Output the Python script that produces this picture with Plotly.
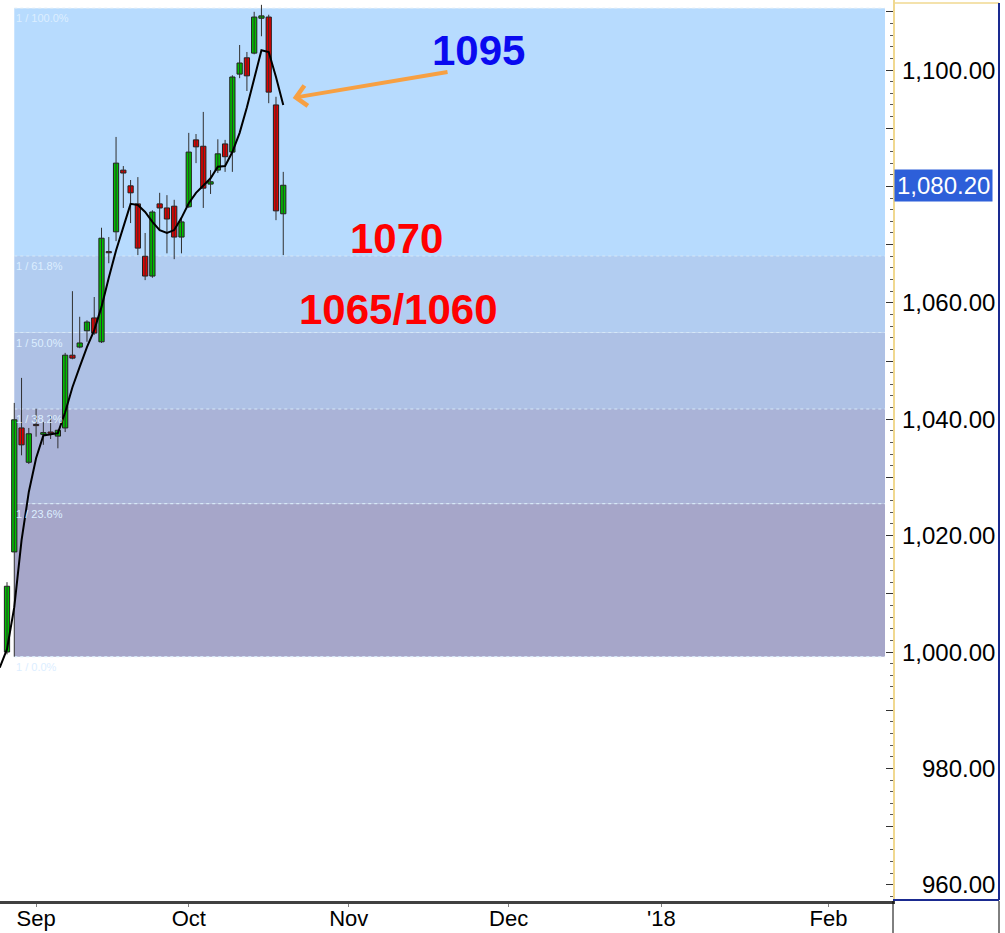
import pandas as pd
import plotly.graph_objects as go

# ---------------- data ----------------
START_DATE = "2017-08-28"
OPEN = [1000.0, 1017.2, 1038.5, 1032.6, 1039.1, 1037.4, 1037.8, 1037.1, 1038.5, 1051.0,
        1052.4, 1055.2, 1057.4, 1053.3, 1068.8, 1072.2, 1082.8, 1080.1, 1077.0, 1068.0,
        1064.6, 1077.0, 1076.3, 1076.6, 1071.3, 1076.5, 1088.0, 1086.9, 1080.4, 1082.8,
        1087.3, 1085.9, 1099.3, 1102.1, 1102.9, 1108.9, 1109.1, 1094.0, 1075.3]
HIGH = [1012.0, 1042.8, 1047.1, 1038.5, 1041.8, 1039.5, 1040.7, 1038.2, 1051.4, 1062.0,
        1057.6, 1057.0, 1061.0, 1072.9, 1071.3, 1088.5, 1083.5, 1081.1, 1081.6, 1072.0,
        1075.9, 1078.9, 1078.5, 1077.7, 1074.5, 1089.2, 1089.0, 1092.8, 1082.8, 1088.1,
        1088.0, 1099.1, 1104.3, 1103.1, 1110.0, 1111.2, 1109.5, 1095.4, 1082.5]
LOW = [999.6, 999.2, 1033.8, 1032.3, 1037.0, 1035.6, 1036.6, 1035.0, 1037.8, 1050.3,
       1052.2, 1053.3, 1054.5, 1053.1, 1066.8, 1070.6, 1076.3, 1073.7, 1068.2, 1063.9,
       1064.3, 1072.5, 1068.5, 1067.5, 1068.5, 1076.3, 1084.0, 1076.3, 1078.7, 1082.3,
       1082.5, 1082.5, 1098.6, 1096.4, 1102.7, 1105.8, 1094.3, 1074.2, 1068.2]
CLOSE = [1011.3, 1039.9, 1035.6, 1037.5, 1038.9, 1037.7, 1037.6, 1038.1, 1051.0, 1050.5,
         1053.1, 1056.7, 1054.8, 1071.1, 1068.6, 1084.0, 1082.3, 1078.9, 1069.4, 1064.6,
         1075.6, 1076.3, 1074.4, 1071.3, 1073.9, 1085.9, 1086.8, 1079.7, 1080.8, 1085.6,
         1085.1, 1098.8, 1101.2, 1099.0, 1109.1, 1109.3, 1096.2, 1075.8, 1080.2]
# moving-average line, one value per session starting one session before START_DATE
MA_START_DATE = "2017-08-25"
MA = [997.3, 1000.5, 1007.7, 1019.2, 1027.5, 1033.3, 1037.2, 1037.4, 1037.6, 1041.2,
      1045.5, 1049.0, 1052.4, 1055.3, 1059.3, 1064.3, 1069.0, 1073.0, 1077.0, 1076.8,
      1075.6, 1073.9, 1072.5, 1072.0, 1072.5, 1074.6, 1077.1, 1078.9, 1080.2, 1081.4,
      1083.4, 1083.5, 1085.9, 1089.2, 1093.6, 1098.6, 1103.4, 1103.1, 1098.8, 1094.0]

FIB_LOW = 999.2
FIB_HIGH = 1110.6
FIB_ANCHOR_DATE = "2017-08-29"
FIB_RATIOS = [0.0, 0.236, 0.382, 0.5, 0.618, 1.0]
FIB_LABELS = ["1 / 0.0%", "1 / 23.6%", "1 / 38.2%", "1 / 50.0%", "1 / 61.8%", "1 / 100.0%"]
FIB_ZONE_COLORS = ["#A6A6C9", "#AAB3D7", "#AEC1E5", "#B2CDF1", "#B7DBFE"]

MONTH_TICK_DATES = ["2017-09-01", "2017-10-02", "2017-11-01", "2017-12-01", "2018-01-01", "2018-02-01"]
MONTH_TICK_LABELS = ["Sep", "Oct", "Nov", "Dec", "'18", "Feb"]
PRICE_TICKS = [960, 970, 980, 990, 1000, 1010, 1020, 1030, 1040, 1050, 1060, 1070, 1080, 1090, 1100, 1110]
PRICE_LABELS = [960, 980, 1000, 1020, 1040, 1060, 1100]   # 1,080.00 sits under the last-price box
LAST_PRICE = 1080.20

# text notes: (text, session position, price, colour)
NOTES = [("1095", 64.8, 1103.3, "#0A0AF0"),
         ("1070", 53.6, 1071.1, "#FF0000"),
         ("1065/1060", 53.8, 1058.8, "#FF0000")]
ARROW_HEAD = (39.3, 1095.2)
ARROW_TAIL = (60.8, 1099.7)

# ---------------- session axis (weekdays) ----------------
days = pd.bdate_range("2017-08-25", "2018-03-30")
pos = {d.strftime("%Y-%m-%d"): i - 1 for i, d in enumerate(days)}   # 2017-08-28 -> 0


def px(date):
    return pos[date]


n = len(OPEN)
xs = list(range(px(START_DATE), px(START_DATE) + n))
ma_x = list(range(px(MA_START_DATE), px(MA_START_DATE) + len(MA)))
XRANGE = [-0.963, 121.87]
fib_x0 = px(FIB_ANCHOR_DATE)
fib_x1 = XRANGE[1] - 1.1

W, H = 1005, 933
ML, MR, MT, MB = 0, 112, 0, 32
PW, PH = W - ML - MR, H - MT - MB


def fx(pix):   # pixel column -> paper x
    return (pix - ML) / PW


def fy(pix):   # pixel row (from top) -> paper y
    return (H - MB - pix) / PH


fig = go.Figure()

# zones
levels = [FIB_LOW + r * (FIB_HIGH - FIB_LOW) for r in FIB_RATIOS]
for k, col in enumerate(FIB_ZONE_COLORS):
    fig.add_shape(type="rect", xref="x", yref="y", x0=fib_x0, x1=fib_x1,
                  y0=levels[k], y1=levels[k + 1], fillcolor=col, line_width=0, layer="below")
for lv, lab in zip(levels, FIB_LABELS):
    fig.add_shape(type="line", xref="x", yref="y", x0=fib_x0, x1=fib_x1, y0=lv, y1=lv,
                  line=dict(color="#D6E8F7", width=1.2, dash="dot"), layer="below")
    fig.add_annotation(x=fib_x0, y=lv, xref="x", yref="y", text=lab, showarrow=False,
                       xanchor="left", yanchor="top", yshift=-2,
                       font=dict(size=11, color="#DCEEFF", family="Liberation Sans"))

# wicks
wx, wy = [], []
for x, h, l in zip(xs, HIGH, LOW):
    wx += [x, x, None]
    wy += [l, h, None]
fig.add_trace(go.Scatter(x=wx, y=wy, mode="lines", line=dict(color="#303030", width=1),
                         hoverinfo="skip"))

# bodies
for up, col in [(True, "#00BE00"), (False, "#E00000")]:
    bx, bb, bh = [], [], []
    for x, o, c in zip(xs, OPEN, CLOSE):
        if (c >= o) == up:
            bx.append(x)
            bb.append(min(o, c))
            bh.append(max(abs(c - o), 0.15))
    fig.add_trace(go.Bar(x=bx, base=bb, y=bh, width=0.72, marker=dict(color=col,
                         line=dict(color="#202020", width=1))))

# moving average
fig.add_trace(go.Scatter(x=ma_x, y=MA, mode="lines", line=dict(color="#000000", width=2),
                         hoverinfo="skip"))

# text notes
for txt, xv, yv, col in NOTES:
    fig.add_annotation(x=xv, y=yv, xref="x", yref="y", text="<b>%s</b>" % txt,
                       showarrow=False, font=dict(size=42, color=col, family="Liberation Sans"))
fig.add_annotation(x=ARROW_HEAD[0], y=ARROW_HEAD[1], xref="x", yref="y",
                   ax=ARROW_TAIL[0], ay=ARROW_TAIL[1], axref="x", ayref="y",
                   text="", showarrow=True, arrowhead=4, arrowsize=1, arrowwidth=4,
                   arrowcolor="#F7A043", standoff=0, startstandoff=0)

# price labels on the right
for v in PRICE_LABELS:
    fig.add_annotation(x=fx(997), y=v, xref="paper", yref="y", text=f"{v:,.2f}",
                       showarrow=False, xanchor="right",
                       font=dict(size=24, color="#000000", family="Liberation Sans"))
fig.add_annotation(x=fx(894), y=LAST_PRICE, xref="paper", yref="y", text=f"{LAST_PRICE:,.2f}",
                   showarrow=False, xanchor="left", bgcolor="#2D5FD9", borderpad=2,
                   font=dict(size=24, color="#FFFFFF", family="Liberation Sans"))

# frame pieces of the price axis panel
fig.add_shape(type="line", xref="paper", yref="paper", x0=fx(893), x1=fx(999), y0=fy(3), y1=fy(3),
              line=dict(color="#F0D890", width=1.5))
fig.add_shape(type="line", xref="paper", yref="paper", x0=fx(999), x1=fx(999), y0=fy(900), y1=fy(3),
              line=dict(color="#1A2A90", width=2))
fig.add_shape(type="line", xref="paper", yref="paper", x0=fx(893), x1=fx(999), y0=fy(900), y1=fy(900),
              line=dict(color="#1A2A90", width=2))
fig.add_shape(type="line", xref="paper", yref="paper", x0=fx(893), x1=fx(893), y0=fy(933), y1=fy(901),
              line=dict(color="#000000", width=1))
fig.add_shape(type="line", xref="paper", yref="paper", x0=fx(999), x1=fx(999), y0=fy(933), y1=fy(901),
              line=dict(color="#000000", width=1))

fig.update_layout(
    width=W, height=H, margin=dict(l=ML, r=MR, t=MT, b=MB, autoexpand=False),
    paper_bgcolor="white", plot_bgcolor="white", showlegend=False, barmode="overlay",
    font=dict(family="Liberation Sans", color="#000000"),
    xaxis=dict(range=XRANGE, tickmode="array", tickvals=[px(d) for d in MONTH_TICK_DATES],
               ticktext=MONTH_TICK_LABELS, showgrid=False, zeroline=False, showline=True,
               linecolor="#404040", linewidth=3, ticks="outside", ticklen=3, tickcolor="#808080",
               ticklabelstandoff=-7,
               tickfont=dict(size=22, color="#000000"), fixedrange=True, automargin=False),
    yaxis=dict(side="right", range=[957.22, 1112.03], tickmode="array", tickvals=PRICE_TICKS,
               showticklabels=False, ticks="inside", ticklen=7, tickcolor="#333333",
               minor=dict(ticks="inside", tickmode="linear", tick0=960, dtick=2, ticklen=3,
                          tickcolor="#555555"),
               showgrid=False, zeroline=False, showline=True, linecolor="#F0D890", linewidth=1.5,
               automargin=False),
)

fig.write_html("out.html")
